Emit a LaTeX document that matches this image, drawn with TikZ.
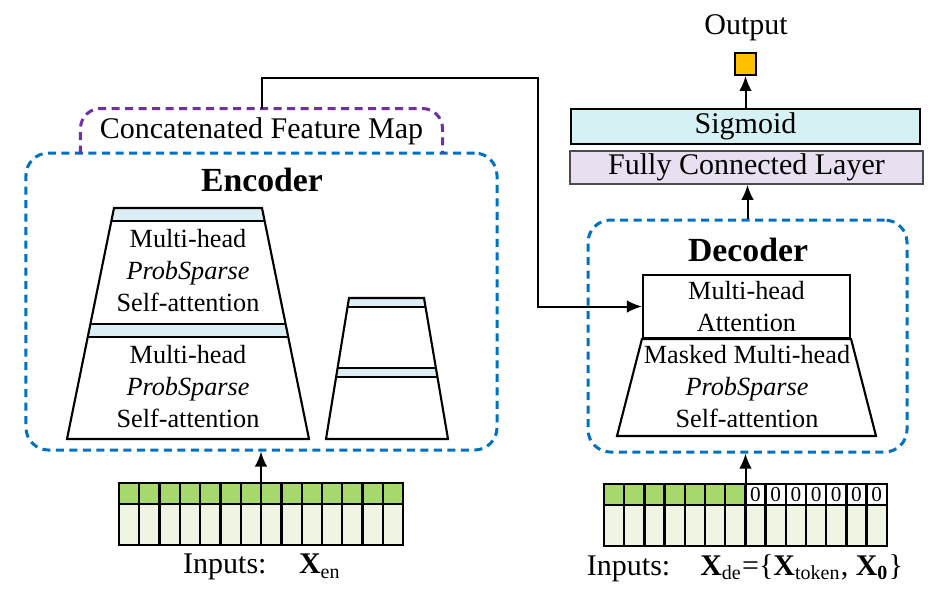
\documentclass[tikz,border=0pt]{standalone}
\usepackage{fontspec}
\setmainfont{Liberation Serif}
\usepackage{tikz}
\usetikzlibrary{positioning, arrows.meta}
\definecolor{encblue}{HTML}{0070C0}
\definecolor{cfmpurple}{HTML}{7030A0}
\definecolor{bandblue}{HTML}{DAEEF3}
\definecolor{sigcyan}{HTML}{D5F1F4}
\definecolor{fclilac}{HTML}{E8DFF0}
\definecolor{tokgreen}{HTML}{A6D86E}
\definecolor{tokpale}{HTML}{EEF6E3}
\definecolor{outorange}{HTML}{FFC000}
\tikzstyle{arrow} = [line width=0.8pt,->,>={Latex[length=6pt,width=5pt]}]
\tikzstyle{dashbox} = [draw=encblue, line width=1.2pt, dash pattern=on 3.2pt off 2.2pt, rounded corners=9pt]
\tikzstyle{lbl} = [font=\fontsize{12}{14}\selectfont]
\tikzstyle{title} = [font=\fontsize{13.5}{16}\selectfont\bfseries]
\tikzstyle{stacktext} = [align=center, font=\fontsize{10.5}{12.8}\selectfont]
\tikzstyle{layer} = [draw, line width=0.85pt]
\tikzstyle{tok} = [draw, line width=0.95pt]

\begin{document}
\begin{tikzpicture}[x=0.4pt,y=-0.4pt]
    \useasboundingbox (0,0) rectangle (946,603);

    \node[dashbox, minimum width=188.4pt, minimum height=118.8pt] (enc) at (261.5,301.5) {};
    \node[title] (enctitle) at (262,180) {Encoder};
    \node[lbl, inner sep=0pt, minimum width=144.4pt, minimum height=17.6pt] (cfm) at (261.5,131) {Concatenated Feature Map};
    \draw[cfmpurple, line width=1.2pt, dash pattern=on 3.2pt off 2.2pt, rounded corners=8pt]
        (cfm.south west) -- (cfm.north west) -- (cfm.north east) -- (cfm.south east);

    \fill[bandblue] (114,208) -- (262,208) -- (264.6,221) -- (111.4,221) -- cycle;
    \fill[bandblue] (90.4,324) -- (285.6,324) -- (288.3,337) -- (87.7,337) -- cycle;
    \draw[layer] (114,208) -- (262,208) -- (309,439) -- (67,439) -- cycle;
    \draw[layer] (111.4,221) -- (264.6,221) (90.4,324) -- (285.6,324) (87.7,337) -- (288.3,337);
    \node[stacktext] (att1) at (188,271) {Multi-head\\\textit{ProbSparse}\\Self-attention};
    \node[stacktext] (att2) at (188,387) {Multi-head\\\textit{ProbSparse}\\Self-attention};

    \fill[bandblue] (349,298) -- (424,298) -- (425.5,307) -- (347.5,307) -- cycle;
    \fill[bandblue] (337.6,368) -- (435.9,368) -- (437.4,377) -- (336.1,377) -- cycle;
    \draw[layer] (349,298) -- (424,298) -- (448,439) -- (326,439) -- cycle;
    \draw[layer] (347.5,307) -- (425.5,307) (337.6,368) -- (435.9,368) (336.1,377) -- (437.4,377);

    \node[dashbox, minimum width=127.6pt, minimum height=92.8pt] (dec) at (747.5,336) {};
    \node[title] (dectitle) at (748,250) {Decoder};
    \node[layer, stacktext, minimum width=82.8pt, minimum height=25.2pt, inner sep=0pt] (mha) at (746.5,306.5) {Multi-head\\Attention};
    \draw[layer] (mha.south west) -- (mha.south east) -- (876,436) -- (617,436) -- cycle;
    \node[stacktext] (msk) at (747,387) {Masked Multi-head\\\textit{ProbSparse}\\Self-attention};

    \node[lbl, draw=black!70, line width=0.6pt, fill=fclilac, minimum width=141.2pt, minimum height=13.2pt, inner sep=0pt] (fc) at (746.5,167.5) {Fully Connected Layer};
    \node[lbl, draw, line width=1pt, fill=sigcyan, minimum width=139.6pt, minimum height=14pt, inner sep=0pt] (sig) at (745.5,126.5) {Sigmoid};
    \node[draw, line width=0.9pt, fill=outorange, minimum size=8.6pt, inner sep=0pt] (outbox) at (745.5,64) {};
    \node[lbl] (outlbl) at (746,28) {Output};

    \node[minimum width=113.6pt, minimum height=24.8pt, inner sep=0pt] (encin) at (261,514) {};
    \foreach \i in {0,...,13} {
        \draw[tok, fill=tokgreen] ({119+\i*20.3},483) rectangle ++(20.3,21);
        \draw[tok, fill=tokpale] ({119+\i*20.3},504) rectangle ++(20.3,41);
    }
    \node[lbl] (enclbl) at (262,567) {Inputs:\hspace{13pt}\textbf{X}\textsubscript{en}};

    \node[minimum width=113.2pt, minimum height=24.8pt, inner sep=0pt] (decin) at (745.5,515) {};
    \foreach \i in {0,...,13} {
        \draw[tok, fill=tokpale] ({604+\i*20.2},505) rectangle ++(20.2,41);
    }
    \foreach \i in {0,...,6} {
        \draw[tok, fill=tokgreen] ({604+\i*20.2},484) rectangle ++(20.2,21);
    }
    \foreach \i in {7,...,13} {
        \draw[tok, fill=white] ({604+\i*20.2},484) rectangle ++(20.2,21);
        \node[font=\fontsize{8.5}{10}\selectfont, inner sep=0pt] (z\i) at ({604+(\i+0.5)*20.2},494.5) {0};
    }
    \node[lbl] (declbl) at (745,568) {Inputs:\hspace{12pt}\textbf{X}\textsubscript{de}=\{\textbf{X}\textsubscript{token}, \textbf{X}\textsubscript{\textbf{0}}\}};

    \coordinate (turn) at (538,78);
    \draw[arrow] (cfm.north) |- (turn) |- (mha.west);
    \draw[arrow] (encin.north) -- (encin.north |- enc.south);
    \draw[arrow] (decin.north) -- (decin.north |- dec.south);
    \draw[arrow] (dec.north) -- (dec.north |- fc.south);
    \draw[arrow] (sig.north) -- (outbox.south);
\end{tikzpicture}
\end{document}
